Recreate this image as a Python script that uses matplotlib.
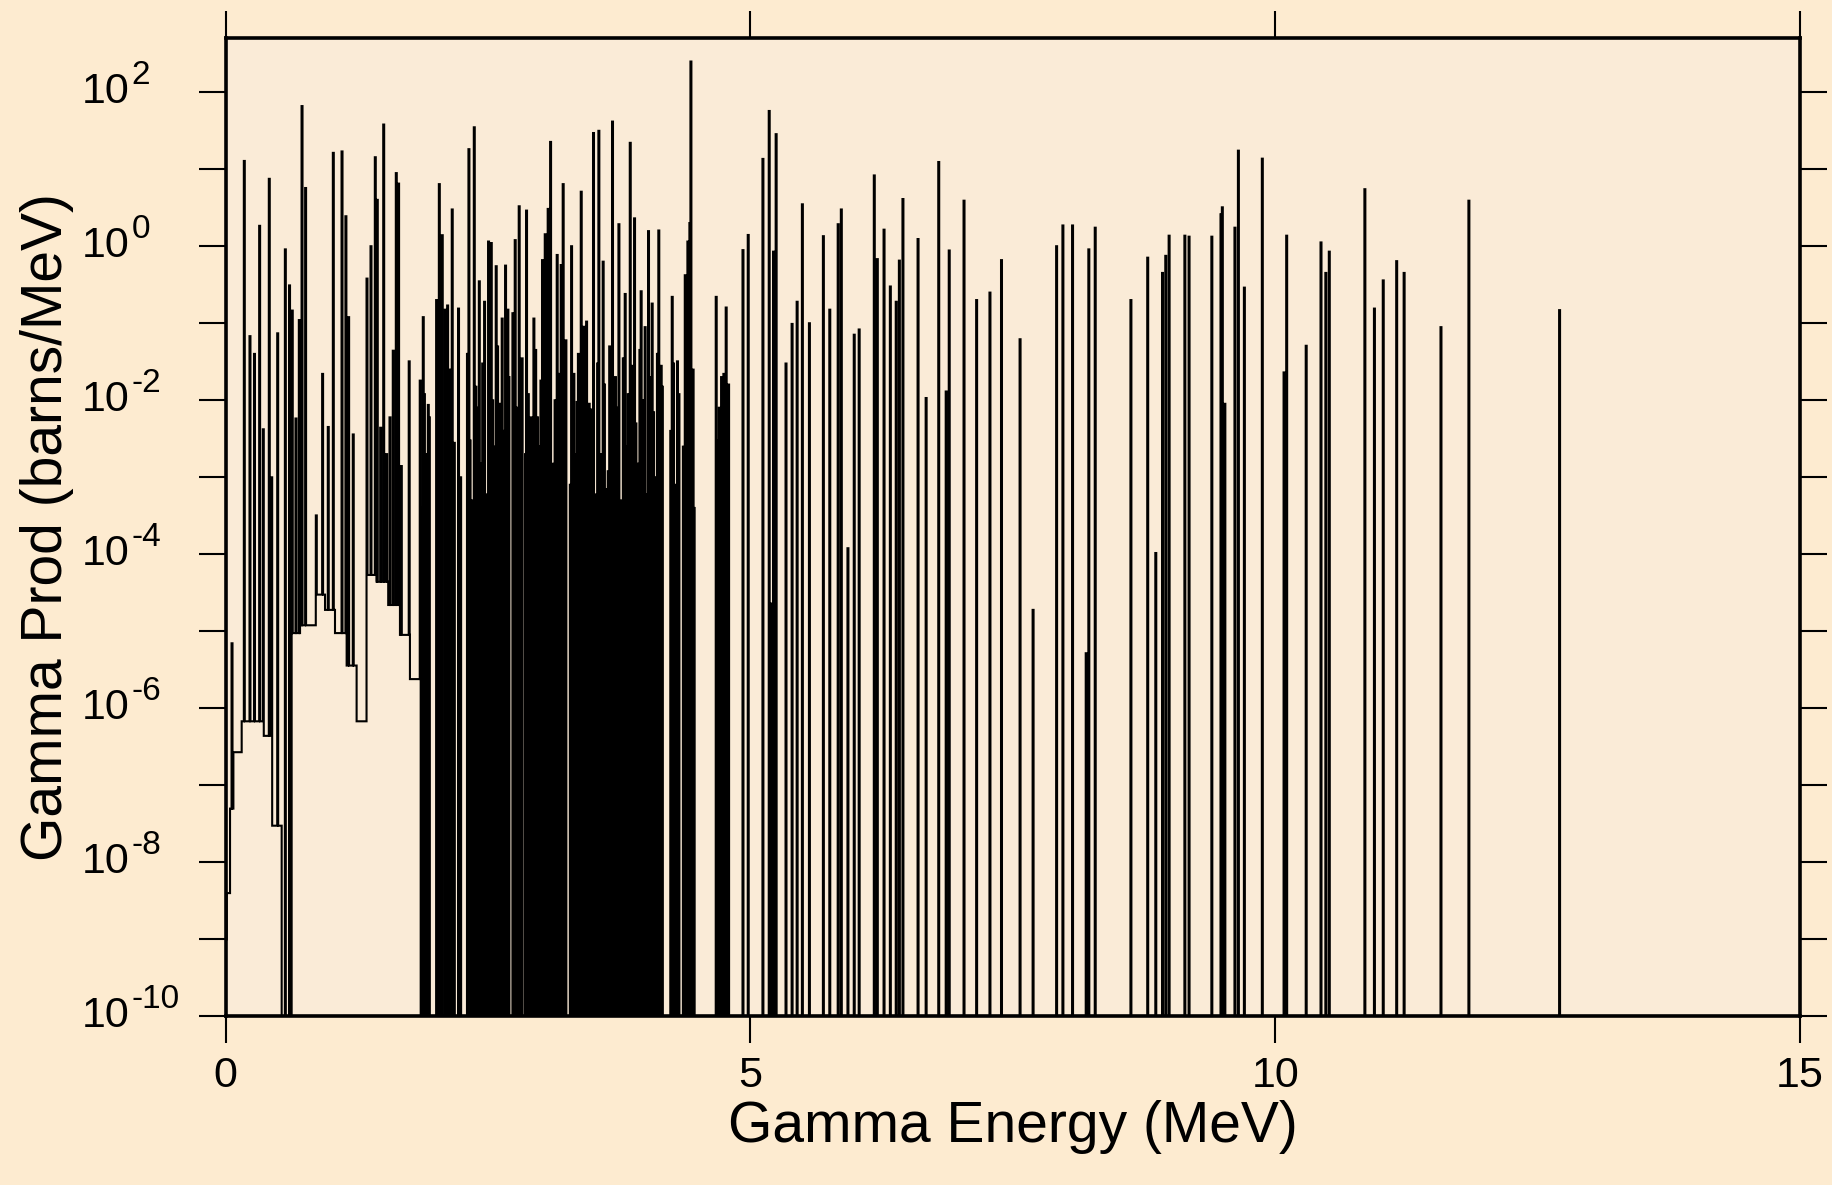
import numpy as np
import matplotlib
matplotlib.use("Agg")
import matplotlib.pyplot as plt
import matplotlib.transforms as mtransforms
from matplotlib.ticker import NullLocator, FixedLocator, FixedFormatter, NullFormatter

plt.rcParams['font.family'] = ['Liberation Sans', 'DejaVu Sans']

# ---------------- data ----------------
BASE = 1e-10

# low-energy continuum (step edges in MeV, level in barns/MeV)
cont_edges = [0.0, 0.012, 0.043, 0.075, 0.154, 0.36, 0.44, 0.535, 0.63, 0.71,
              0.86, 0.948, 1.043, 1.154, 1.249, 1.344, 1.44, 1.55, 1.662, 1.757, 1.852]
cont_vals = [1e-9, 4e-9, 5e-8, 2.7e-7, 6.8e-7, 4.4e-7, 3e-8, 1e-10, 9.5e-6, 1.2e-5,
             3e-5, 1.9e-5, 9.5e-6, 3.6e-6, 6.8e-7, 5.4e-5, 4.4e-5, 2.2e-5, 9e-6, 2.4e-6]

# discrete gamma lines: energy (MeV) and peak value (barns/MeV)
line_energy = [
    0.062, 0.179, 0.233, 0.276, 0.325, 0.36, 0.417, 0.44, 0.497, 0.570,
    0.61, 0.636, 0.671, 0.703, 0.729, 0.763, 0.865, 0.925, 0.979, 1.027,
    1.11, 1.147, 1.173, 1.217, 1.348, 1.386, 1.427, 1.446, 1.478, 1.507,
    1.535, 1.567, 1.598, 1.627, 1.649, 1.675, 1.75, 1.855, 1.884, 1.906,
    1.932, 2.011, 2.037, 2.065, 2.094, 2.116, 2.16, 2.18, 2.22, 2.319,
    2.37, 2.418, 2.468, 2.506, 2.532, 2.579, 2.608, 2.636, 2.668, 2.69,
    2.738, 2.76, 2.798, 2.868, 2.938, 2.973, 3.02, 3.046, 3.074, 3.097,
    3.16, 3.198, 3.217, 3.297, 3.319, 3.35, 3.389, 3.414, 3.44, 3.484,
    3.506, 3.557, 3.598, 3.646, 3.687, 3.748, 3.808, 3.856, 3.897, 3.96,
    3.998, 4.03, 4.065, 4.128, 4.151, 4.256, 4.306, 4.38, 4.405, 4.424,
    4.434, 4.675, 4.726, 4.748, 4.77, 4.793, 4.93, 4.98, 5.12, 5.18,
    5.205, 5.221, 5.246, 5.34, 5.398, 5.446, 5.496, 5.563, 5.696, 5.757,
    5.837, 5.867, 5.93, 5.99, 6.037, 6.181, 6.21, 6.274, 6.334, 6.39,
    6.42, 6.454, 6.598, 6.675, 6.795, 6.866, 6.895, 7.036, 7.156, 7.283,
    7.393, 7.57, 7.694, 7.918, 7.978, 8.07, 8.2, 8.225, 8.286, 8.626,
    8.786, 8.863, 8.927, 8.958, 8.99, 9.14, 9.18, 9.397, 9.484, 9.497,
    9.521, 9.617, 9.65, 9.707, 9.878, 10.085, 10.11, 10.296, 10.437, 10.483,
    10.516, 10.855, 10.946, 11.03, 11.158, 11.229, 11.58, 11.846, 12.71,
]
line_peak = [
    7e-6, 12.8, 0.068, 0.04, 1.84, 0.0042, 7.5, 0.001, 0.074, 0.91,
    0.31, 0.146, 0.0058, 0.11, 66, 5.7, 3.2e-4, 0.022, 0.0045, 16.3,
    17, 2.45, 0.12, 0.0036, 0.38, 1.0, 14.3, 4.0, 0.0044, 38,
    0.002, 0.006, 0.044, 8.9, 6.5, 0.0014, 0.032, 0.018, 0.12, 0.0017,
    0.0087, 0.2, 6.4, 1.39, 0.15, 0.17, 3.0, 0.0028, 0.155, 18.2,
    35, 0.35, 0.19, 1.15, 1.1, 0.55, 0.009, 0.115, 0.56, 0.15,
    0.135, 1.2, 3.3, 2.9, 0.115, 0.006, 0.66, 1.43, 3.05, 22.6,
    0.77, 0.57, 6.4, 1.0, 0.022, 0.0095, 5.1, 0.09, 0.105, 0.0076,
    29.5, 31.5, 0.63, 0.0012, 41.5, 1.93, 0.24, 22, 2.3, 0.26,
    0.089, 1.57, 0.18, 1.6, 0.028, 0.22, 0.032, 0.42, 1.15, 2.0,
    250, 0.22, 0.02, 0.022, 0.16, 0.016, 0.89, 1.4, 13.6, 57,
    2.3e-5, 0.85, 28.5, 0.03, 0.098, 0.19, 3.5, 0.1, 1.35, 0.15,
    1.93, 3.0, 1.2e-4, 0.071, 0.083, 8.3, 0.68, 1.64, 0.3, 0.19,
    0.65, 4.1, 1.24, 0.0107, 12.4, 0.013, 0.88, 3.9, 0.2, 0.25,
    0.66, 0.062, 1.9e-5, 1.0, 1.86, 1.86, 5.2e-6, 0.91, 1.74, 0.2,
    0.71, 1.04e-4, 0.45, 0.75, 1.37, 1.37, 1.33, 1.33, 2.6, 3.2,
    0.009, 1.74, 17.4, 0.29, 13.7, 0.023, 1.37, 0.051, 1.12, 0.45,
    0.85, 5.5, 0.155, 0.36, 0.64, 0.45, 0.089, 3.9, 0.148,
]

# weak lines whose tops are buried in the dense 1.8-4.8 MeV band
weak_line_energy = [
    1.87, 1.895, 1.92, 1.942, 2.138, 2.24, 2.305, 2.33, 2.35, 2.385,
    2.40, 2.432, 2.45, 2.495, 2.545, 2.562, 2.592, 2.622, 2.652, 2.70,
    2.75, 2.775, 2.812, 2.826, 2.858, 2.885, 2.912, 2.925, 2.955, 2.985,
    3.005, 3.033, 3.06, 3.085, 3.115, 3.14, 3.175, 3.185, 3.232, 3.243,
    3.285, 3.308, 3.34, 3.362, 3.375, 3.40, 3.427, 3.455, 3.465, 3.52,
    3.545, 3.57, 3.61, 3.62, 3.66, 3.673, 3.70, 3.715, 3.73, 3.775,
    3.79, 3.822, 3.838, 3.87, 3.883, 3.91, 3.935, 3.948, 3.975, 3.985,
    4.012, 4.045, 4.078, 4.10, 4.115, 4.14, 4.162, 4.242, 4.268, 4.292,
    4.32, 4.362, 4.392, 4.415, 4.445, 4.455, 4.465, 4.69, 4.705, 4.738,
    4.783,
]
weak_line_peak = [
    4e-4, 0.012, 2e-3, 6e-3, 0.025, 1e-3, 0.04, 3e-3, 5e-4, 0.015,
    8e-3, 1.5e-3, 0.03, 6e-4, 0.01, 2.5e-3, 0.05, 7e-4, 4e-3, 0.02,
    1.2e-3, 0.008, 3e-4, 0.035, 2e-3, 0.012, 6e-3, 9e-4, 0.045, 2.5e-3,
    0.018, 5e-4, 7e-3, 0.03, 1.5e-3, 0.01, 4e-4, 0.022, 3e-3, 0.06,
    8e-4, 0.014, 2e-3, 0.04, 6e-3, 1e-3, 0.025, 3.5e-3, 0.009, 6e-4,
    0.03, 2e-3, 0.016, 7e-4, 0.05, 4e-3, 1.2e-3, 0.02, 8e-3, 5e-4,
    0.035, 2.5e-3, 0.012, 9e-4, 0.028, 5e-3, 1.5e-3, 0.045, 3e-3, 0.01,
    6e-4, 0.02, 7e-3, 1e-3, 0.04, 2e-3, 0.015, 4e-3, 0.03, 8e-4,
    0.012, 2.5e-3, 0.05, 6e-3, 1.2e-3, 0.025, 4e-4, 3e-3, 0.008, 1.5e-3,
    0.006,
]

x_ticks = [0, 5, 10, 15]
y_exponents = list(range(-10, 3))
y_label_exponents = [-10, -8, -6, -4, -2, 0, 2]

# ---------------- build the histogram-like trace ----------------
E = np.asarray(line_energy + weak_line_energy, float)
P = np.asarray(line_peak + weak_line_peak, float)
ce = np.asarray(cont_edges, float)
cv = np.asarray(cont_vals, float)
w = 0.009

edges = np.unique(np.concatenate([[0.0, 15.0], ce, E - w / 2, E + w / 2]))
centers = 0.5 * (edges[:-1] + edges[1:])
vals = np.full(len(centers), BASE)
idx = np.searchsorted(ce, centers, side='right') - 1
inside = (idx >= 0) & (idx < len(cv))
vals[inside] = cv[idx[inside]]
for e, p in zip(E, P):
    m = (centers > e - w / 2) & (centers < e + w / 2)
    vals[m] = np.maximum(vals[m], p)

xs = np.concatenate([[0.0], np.repeat(edges, 2)[1:-1]])
ys = np.concatenate([[BASE], np.repeat(vals, 2)])

# ---------------- figure ----------------
fig = plt.figure(figsize=(18.32, 11.85), dpi=100, facecolor='#FDEBD0')
ax = fig.add_axes([0.1231, 0.1422, 0.8594, 0.8255])
ax.set_facecolor('#FAEBD7')

ax.plot(xs, ys, color='black', lw=1.5, solid_joinstyle='miter')

ax.set_yscale('log')
ax.set_xlim(0, 15)
ax.set_ylim(1e-10, 10 ** 2.70)

ax.xaxis.set_major_locator(FixedLocator(x_ticks))
ax.xaxis.set_major_formatter(FixedFormatter([str(t) for t in x_ticks]))
ax.xaxis.set_minor_locator(NullLocator())
ax.yaxis.set_major_locator(FixedLocator([10.0 ** k for k in y_exponents]))
ax.yaxis.set_major_formatter(NullFormatter())
ax.yaxis.set_minor_locator(NullLocator())

ax.tick_params(axis='both', which='major', direction='out', length=19.5,
               width=1.5, top=True, right=True, labelsize=31, pad=9,
               colors='black')

for s in ax.spines.values():
    s.set_linewidth(2.6)

# y tick labels: "10" with a raised exponent, left aligned like the original
trans = mtransforms.blended_transform_factory(ax.transAxes, ax.transData)
for k in y_label_exponents:
    ten = ax.text(-0.0915, 10.0 ** k, '10', transform=trans, ha='left',
                  va='center', fontsize=31, clip_on=False)
    ax.annotate(str(k), xy=(1.0, 0.5), xycoords=ten,
                xytext=(1.5, 12), textcoords='offset points',
                ha='left', va='center', fontsize=24, annotation_clip=False)

ax.set_xlabel('Gamma Energy (MeV)', fontsize=41, va='top')
ax.xaxis.set_label_coords(0.5, -0.085)
ax.set_ylabel('Gamma Prod (barns/MeV)', fontsize=41)
ax.yaxis.set_label_coords(-0.0965, 0.5)

fig.savefig('out.png', dpi=100, facecolor=fig.get_facecolor())
